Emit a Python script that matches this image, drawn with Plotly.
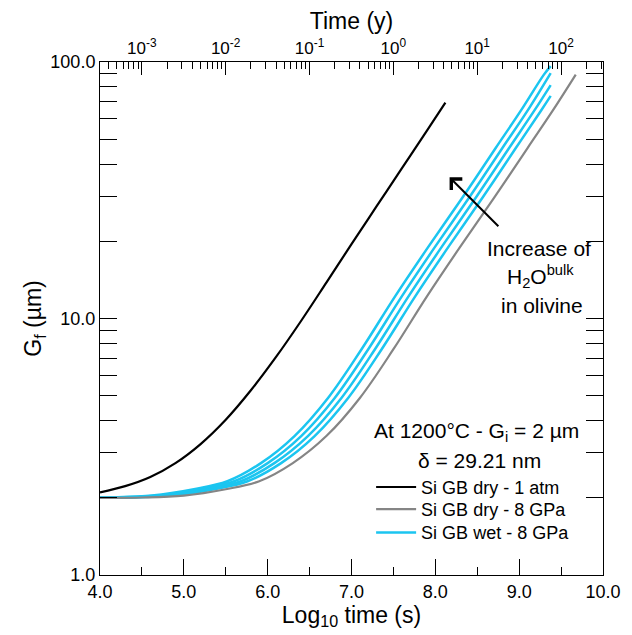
import numpy as np
import plotly.graph_objects as go

# ---- data ----
black_logt = [4.0, 4.3, 4.6, 4.9, 5.2, 5.5, 5.8, 6.1, 6.4, 6.7, 7.0, 7.3, 7.6, 7.9, 8.12]
black_G = [2.10, 2.22, 2.41, 2.73, 3.24, 4.03, 5.25, 7.08, 9.80, 13.8, 19.5, 27.4, 38.5, 54.0, 69.5]

gray_logt = [4.0, 4.5, 5.0, 5.5, 5.9, 6.3, 6.7, 7.1, 7.5, 7.9, 8.3, 8.7, 9.1, 9.4, 9.675]
gray_G = [2.00, 2.005, 2.04, 2.16, 2.32, 2.73, 3.48, 4.90, 7.59, 12.2, 19.1, 29.5, 46.2, 64.6, 89.3]

blue1_logt = [4.0, 4.12, 4.62, 5.12, 5.52, 5.92, 6.32, 6.72, 7.12, 7.52, 7.92, 8.32, 8.72, 9.02, 9.295, 9.376]
blue1_G = [2.00, 2.005, 2.04, 2.16, 2.32, 2.73, 3.48, 4.90, 7.59, 12.2, 19.1, 29.5, 46.2, 64.6, 89.3, 96.4]
blue2_logt = [4.0, 4.2, 4.7, 5.2, 5.6, 6.0, 6.4, 6.8, 7.2, 7.6, 8.0, 8.4, 8.8, 9.1, 9.376]
blue2_G = [2.00, 2.005, 2.04, 2.16, 2.32, 2.73, 3.48, 4.90, 7.59, 12.2, 19.1, 29.5, 46.2, 64.6, 90.5]
blue3_logt = [4.0, 4.28, 4.78, 5.28, 5.68, 6.08, 6.48, 6.88, 7.28, 7.68, 8.08, 8.48, 8.88, 9.18, 9.376]
blue3_G = [2.00, 2.005, 2.04, 2.16, 2.32, 2.73, 3.48, 4.90, 7.59, 12.2, 19.1, 29.5, 46.2, 64.6, 81.3]
blue4_logt = [4.0, 4.36, 4.86, 5.36, 5.76, 6.16, 6.56, 6.96, 7.36, 7.76, 8.16, 8.56, 8.96, 9.26, 9.376]
blue4_G = [2.00, 2.005, 2.04, 2.16, 2.32, 2.73, 3.48, 4.90, 7.59, 12.2, 19.1, 29.5, 46.2, 64.6, 73.8]

x_ticks = [4, 5, 6, 7, 8, 9, 10]
x_ticktext = ["4.0", "5.0", "6.0", "7.0", "8.0", "9.0", "10.0"]
y_ticks = [1, 10, 100]
y_ticktext = ["1.0", "10.0", "100.0"]
year_ticks = [1e-3, 1e-2, 1e-1, 1e0, 1e1, 1e2]
year_ticktext = ["10<sup>-3</sup>", "10<sup>-2</sup>", "10<sup>-1</sup>",
                 "10<sup>0</sup>", "10<sup>1</sup>", "10<sup>2</sup>"]

SEC_PER_YEAR = 365.25 * 86400
FONT = "Liberation Sans, Arial, sans-serif"
BLUE = "#1BC5F0"
GRAY = "#858585"

fig = go.Figure()

blues = [(blue1_logt, blue1_G), (blue2_logt, blue2_G), (blue3_logt, blue3_G), (blue4_logt, blue4_G)]
for i, (xs, gs) in enumerate(blues):
    fig.add_trace(go.Scatter(x=xs, y=gs, mode="lines", line=dict(color=BLUE, width=2.5, shape="spline"),
                             name="Si GB wet - 8 GPa", showlegend=(i == 0), legend="legend3"))
fig.add_trace(go.Scatter(x=gray_logt, y=gray_G, mode="lines", line=dict(color=GRAY, width=2.2, shape="spline"),
                         name="Si GB dry - 8 GPa", legend="legend2"))
fig.add_trace(go.Scatter(x=black_logt, y=black_G, mode="lines", line=dict(color="black", width=2.2, shape="spline"),
                         name="Si GB dry - 1 atm", legend="legend"))
# invisible trace that carries the top (years) axis
fig.add_trace(go.Scatter(x=year_ticks, y=[2] * len(year_ticks), xaxis="x2", mode="markers",
                         marker=dict(opacity=0), showlegend=False, hoverinfo="skip"))

y_minor = [m * 10 ** k for k in range(0, 2) for m in range(2, 10)]
yr_minor = [m * 10 ** k for k in range(-4, 3) for m in range(2, 10)]

leg_common = dict(x=0.539, xanchor="left", yanchor="middle", bgcolor="rgba(0,0,0,0)",
                  font=dict(size=18), tracegroupgap=0, itemwidth=40)

# the page body adds an 8 px margin, so the figure is drawn 8 px smaller
fig.update_layout(
    width=624, height=627,
    margin=dict(l=92, r=29, t=54, b=60),
    paper_bgcolor="white", plot_bgcolor="white",
    font=dict(family=FONT, size=18, color="black"),
    xaxis=dict(range=[4, 10], tickmode="array", tickvals=x_ticks, ticktext=x_ticktext,
               ticks="inside", ticklen=16, tickwidth=1, tickcolor="black",
               minor=dict(tickmode="linear", tick0=4.5, dtick=1, ticks="inside", ticklen=8,
                          tickwidth=1, tickcolor="black", showgrid=False),
               showline=True, linecolor="black", linewidth=1, mirror=False,
               showgrid=False, zeroline=False, automargin=False,
               title=dict(text="Log<sub>10</sub> time (s)", font=dict(size=23), standoff=2)),
    yaxis=dict(type="log", range=[0, 2], tickmode="array", tickvals=y_ticks, ticktext=y_ticktext,
               ticks="inside", ticklen=17, tickwidth=1, tickcolor="black",
               minor=dict(tickmode="array", tickvals=y_minor, ticks="inside", ticklen=9,
                          tickwidth=1, tickcolor="black", showgrid=False),
               showline=True, linecolor="black", linewidth=1, mirror="allticks",
               showgrid=False, zeroline=False, automargin=False,
               title=dict(text="G<sub>f</sub> (µm)", font=dict(size=23), standoff=2)),
    xaxis2=dict(overlaying="x", side="top", type="log",
                range=[4 - np.log10(SEC_PER_YEAR), 10 - np.log10(SEC_PER_YEAR)],
                tickmode="array", tickvals=year_ticks, ticktext=year_ticktext,
                ticks="inside", ticklen=13, tickwidth=1, tickcolor="black",
                minor=dict(tickmode="array", tickvals=yr_minor, ticks="inside", ticklen=7,
                           tickwidth=1, tickcolor="black", showgrid=False),
                showline=True, linecolor="black", linewidth=1, automargin=False,
                showgrid=False, zeroline=False, tickfont=dict(size=17),
                title=dict(text="Time (y)", font=dict(size=23), standoff=4)),
    legend=dict(y=0.171, **leg_common),
    legend2=dict(y=0.128, **leg_common),
    legend3=dict(y=0.0825, **leg_common),
    showlegend=True,
)

ann_font = dict(family=FONT, size=21, color="black")
fig.add_annotation(x=0.748, y=0.279, xref="paper", yref="paper", xanchor="center", yanchor="middle",
                   showarrow=False, text="At 1200°C - G<sub>i</sub> = 2 µm", font=ann_font)
fig.add_annotation(x=0.755, y=0.224, xref="paper", yref="paper", xanchor="center", yanchor="middle",
                   showarrow=False, text="δ = 29.21 nm", font=ann_font)
fig.add_annotation(x=0.873, y=0.637, xref="paper", yref="paper", xanchor="center", yanchor="middle",
                   showarrow=False, text="Increase of", font=ann_font)
fig.add_annotation(x=0.875, y=0.581, xref="paper", yref="paper", xanchor="center", yanchor="middle",
                   showarrow=False, text="H<sub>2</sub>O<sup>bulk</sup>", font=ann_font)
fig.add_annotation(x=0.878, y=0.526, xref="paper", yref="paper", xanchor="center", yanchor="middle",
                   showarrow=False, text="in olivine", font=ann_font)
# arrow
fig.add_annotation(x=8.17, y=np.log10(35.5), ax=8.77, ay=np.log10(22.6),
                   xref="x", yref="y", axref="x", ayref="y", text="", showarrow=True,
                   arrowhead=4, arrowsize=1.5, arrowwidth=2, arrowcolor="black")

fig.write_html("out.html")
